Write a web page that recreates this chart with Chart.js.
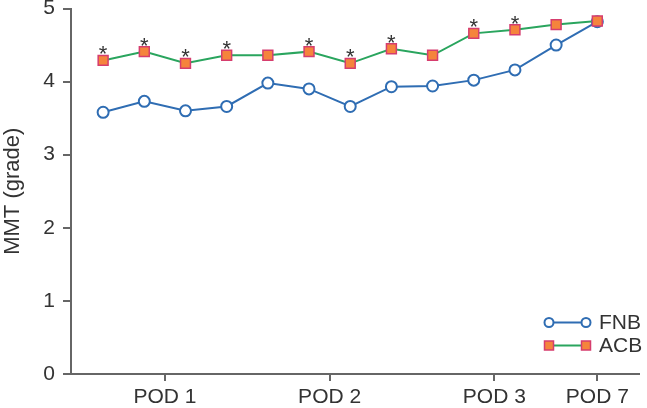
<!DOCTYPE html>
<html><head><meta charset="utf-8">
<script src="https://cdn.jsdelivr.net/npm/chart.js@4"></script>
<style>html,body{margin:0;padding:0;background:#fff}#wrap{width:647px;height:408px}</style>
</head><body><div id="wrap"><canvas id="c" width="647" height="408"></canvas></div>
<script>
const timepoints = [0,1,2,3,4,5,6,7,8,9,10,11,12];
const fnbValues = [3.58,3.73,3.60,3.66,3.98,3.90,3.66,3.93,3.94,4.02,4.16,4.50,4.82];
const acbValues = [4.29,4.41,4.25,4.36,4.36,4.41,4.25,4.45,4.36,4.66,4.71,4.78,4.83];
const acbSignificant = [true,true,true,true,false,true,true,true,false,true,true,false,false];
const xTickPositions = [1.5,5.5,9.5,12];
const xTickLabels = ['POD 1','POD 2','POD 3','POD 7'];
const yTicks = [0,1,2,3,4,5];
const seriesNames = ['FNB','ACB'];

const FONT = "'Liberation Sans', Arial, Helvetica, sans-serif";
const TEXT = '#333333';
const AXIS = '#666666';
const FNB_LINE = '#2f6db3';
const ACB_LINE = '#2aa55e';
const ACB_FILL = '#f5843c';
const ACB_EDGE = '#d63d6e';

Chart.defaults.font.family = FONT;

const asteriskPlugin = {
  id: 'asterisks',
  afterDatasetsDraw(chart) {
    const ctx = chart.ctx;
    const meta = chart.getDatasetMeta(1);
    ctx.save();
    ctx.fillStyle = '#333';
    ctx.font = '22px ' + FONT;
    ctx.textAlign = 'center';
    ctx.textBaseline = 'alphabetic';
    meta.data.forEach((pt, i) => {
      if (acbSignificant[i]) ctx.fillText('*', pt.x, pt.y + 1);
    });
    ctx.restore();
  }
};

const legendPlugin = {
  id: 'customLegend',
  afterDraw(chart) {
    const ctx = chart.ctx;
    const x1 = 549, x2 = 586, tx = 599;
    const rows = [322.5, 345.5];
    ctx.save();
    let y = rows[0];
    ctx.strokeStyle = FNB_LINE; ctx.lineWidth = 2;
    ctx.beginPath(); ctx.moveTo(x1, y); ctx.lineTo(x2, y); ctx.stroke();
    [x1, x2].forEach(x => {
      ctx.beginPath(); ctx.arc(x, y, 4.5, 0, Math.PI * 2);
      ctx.fillStyle = '#fff'; ctx.fill(); ctx.stroke();
    });
    y = rows[1];
    ctx.strokeStyle = ACB_LINE; ctx.lineWidth = 2;
    ctx.beginPath(); ctx.moveTo(x1, y); ctx.lineTo(x2, y); ctx.stroke();
    [x1, x2].forEach(x => {
      ctx.fillStyle = ACB_FILL; ctx.strokeStyle = ACB_EDGE; ctx.lineWidth = 1.5;
      ctx.fillRect(x - 4.5, y - 4.5, 9, 9);
      ctx.strokeRect(x - 4.5, y - 4.5, 9, 9);
    });
    ctx.fillStyle = TEXT;
    ctx.font = '21px ' + FONT;
    ctx.textAlign = 'left';
    ctx.textBaseline = 'middle';
    ctx.fillText(seriesNames[0], tx, rows[0] + 1);
    ctx.fillText(seriesNames[1], tx, rows[1] + 1);
    ctx.restore();
  }
};

new Chart(document.getElementById('c'), {
  type: 'line',
  data: {
    datasets: [
      {
        label: seriesNames[0],
        data: timepoints.map((t, i) => ({x: t, y: fnbValues[i]})),
        borderColor: FNB_LINE, borderWidth: 2,
        pointBackgroundColor: '#fff', pointBorderColor: FNB_LINE,
        pointBorderWidth: 2, pointRadius: 5.5, pointStyle: 'circle',
        tension: 0, order: 1
      },
      {
        label: seriesNames[1],
        data: timepoints.map((t, i) => ({x: t, y: acbValues[i]})),
        borderColor: ACB_LINE, borderWidth: 2,
        pointBackgroundColor: ACB_FILL, pointBorderColor: ACB_EDGE,
        pointBorderWidth: 1.5, pointRadius: 7, pointStyle: 'rect',
        tension: 0, order: 0
      }
    ]
  },
  options: {
    responsive: false, animation: false, devicePixelRatio: 1,
    layout: {padding: {top: 7, left: 0, right: 0, bottom: 0}},
    plugins: {legend: {display: false}, tooltip: {enabled: false}},
    scales: {
      x: {
        type: 'linear', min: -0.78, max: 13,
        afterBuildTicks: s => { s.ticks = xTickPositions.map(v => ({value: v})); },
        ticks: {
          callback: (v, i) => xTickLabels[i],
          font: {size: 21}, color: TEXT, padding: 4,
          maxRotation: 0, autoSkip: false
        },
        grid: {drawOnChartArea: false, tickLength: 7, color: AXIS, lineWidth: 2},
        border: {color: AXIS, width: 2},
        afterFit: s => { s.height = 34; s.paddingLeft = 0; s.paddingRight = 0; }
      },
      y: {
        min: 0, max: 5,
        afterBuildTicks: s => { s.ticks = yTicks.map(v => ({value: v})); },
        ticks: {font: {size: 21}, color: TEXT, padding: 8},
        grid: {drawOnChartArea: false, tickLength: 8, color: AXIS, lineWidth: 2},
        border: {color: AXIS, width: 2},
        title: {display: true, text: 'MMT (grade)', font: {size: 22}, color: TEXT, padding: 0},
        afterFit: s => { s.width = 71; s.paddingTop = 0; s.paddingBottom = 0; }
      }
    }
  },
  plugins: [asteriskPlugin, legendPlugin]
});
</script></body></html>
